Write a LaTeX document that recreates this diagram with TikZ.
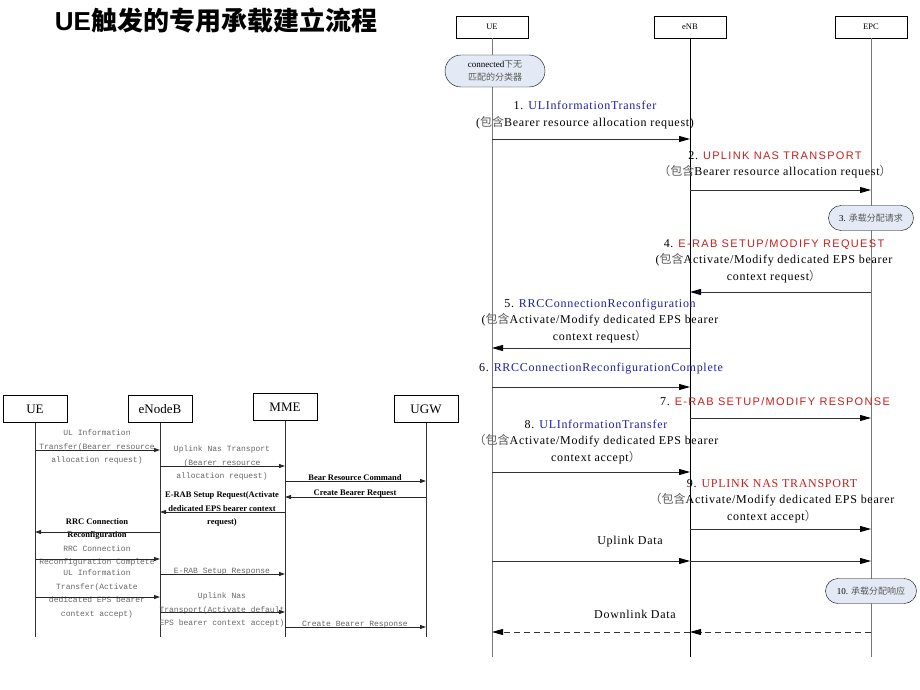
\documentclass[tikz,border=0pt]{standalone}
\usepackage{fontspec}
\setmainfont{Liberation Serif}
\setsansfont{Liberation Sans}
\setmonofont{Liberation Mono}
\newfontfamily\cjk{Noto Sans CJK SC}
\newfontfamily\seqfont[LetterSpace=6]{Liberation Serif}
\newfontfamily\seqsans[LetterSpace=12]{Liberation Sans}
\usetikzlibrary{arrows.meta,shapes.misc}
\definecolor{msgblue}{RGB}{30,30,170}
\definecolor{msgred}{RGB}{200,30,30}
\definecolor{notefill}{RGB}{228,234,245}
\definecolor{lifegray}{RGB}{120,120,120}
\newcommand{\zh}[1]{{\cjk #1}}
\newcommand{\zhl}[1]{{\cjk\color{black!65}#1}}
\newcommand{\redsans}[1]{\textcolor{msgred}{\seqsans\fontsize{11}{16.5}\selectfont #1}}
\tikzset{
  actor/.style={draw, minimum width=72pt, minimum height=22pt, inner sep=1pt, font=\fontsize{8.5}{10}\selectfont},
  oldactor/.style={draw, minimum width=64pt, minimum height=27pt, inner sep=1pt, font=\fontsize{13}{15}\selectfont},
  note/.style={draw, rounded rectangle, fill=notefill, inner sep=1pt, align=center, font=\fontsize{9}{12.5}\selectfont},
  lbl/.style={align=center, inner sep=0pt, font=\seqfont\fontsize{12}{16.5}\selectfont},
  oldlbl/.style={align=center, inner sep=0pt, text=black!60, font=\ttfamily\fontsize{8}{13.5}\selectfont},
  oldlblb/.style={align=center, inner sep=0pt, font=\fontsize{8.5}{13.5}\selectfont\bfseries},
  msg/.style={black!80, -{Triangle[length=11pt,width=6pt,black]}, line width=0.8pt},
  oldmsg/.style={black!85, -{Triangle[length=6pt,width=4pt]}, line width=0.9pt},
}
\begin{document}
\begin{tikzpicture}[x=1pt,y=-1pt]
\useasboundingbox (0,0) rectangle (920,690);

\node[font=\fontsize{26}{28}\selectfont] (title) at (216,21) {\textbf{\sffamily UE}{\cjk\bfseries 触发的专用承载建立流程}};

\node[actor] (ue) at (492,27) {UE};
\node[actor] (enb) at (690,27) {eNB};
\node[actor] (epc) at (871,27) {EPC};
\coordinate (bot) at (0,657);
\draw[lifegray] (ue) -- (ue |- bot);
\draw[black] (enb) -- (enb |- bot);
\draw[lifegray] (epc) -- (epc |- bot);

\node[note, minimum width=102pt, minimum height=32pt] (conn) at (495,71) {connected\zhl{下无}\\\zhl{匹配的分类器}};
\node[note, minimum width=87pt, minimum height=25pt] (req) at (871,218) {3. \zhl{承载分配请求}};
\node[note, minimum width=93pt, minimum height=25pt] (rsp) at (871,591) {10. \zhl{承载分配响应}};

\coordinate (m1) at (0,139);
\coordinate (m2) at (0,190);
\coordinate (m4) at (0,292);
\coordinate (m5) at (0,348);
\coordinate (m6) at (0,387);
\coordinate (m7) at (0,418);
\coordinate (m8) at (0,472);
\coordinate (m9) at (0,529);
\coordinate (up) at (0,561);
\coordinate (down) at (0,632);

\node[lbl] (t1) at (585,115) {1. \textcolor{msgblue}{ULInformationTransfer}\\(\zhl{包含}Bearer resource allocation request)};
\draw[msg] (ue |- m1) -- (enb |- m1);
\node[lbl] (t2) at (775,165) {2. \redsans{UPLINK NAS TRANSPORT}\\\zhl{（包含}Bearer resource allocation request\zhl{）}};
\draw[msg] (enb |- m2) -- (epc |- m2);
\node[lbl] (t4) at (774,261) {4. \redsans{E-RAB SETUP/MODIFY REQUEST}\\(\zhl{包含}Activate/Modify dedicated EPS bearer\\context request\zhl{）}};
\draw[msg] (epc |- m4) -- (enb |- m4);
\node[lbl] (t5) at (600,321) {5. \textcolor{msgblue}{RRCConnectionReconfiguration}\\(\zhl{包含}Activate/Modify dedicated EPS bearer\\context request\zhl{）}};
\draw[msg] (enb |- m5) -- (ue |- m5);
\node[lbl] (t6) at (601,369) {6. \textcolor{msgblue}{RRCConnectionReconfigurationComplete}};
\draw[msg] (ue |- m6) -- (enb |- m6);
\node[lbl] (t7) at (775,402) {7. \redsans{E-RAB SETUP/MODIFY RESPONSE}};
\draw[msg] (enb |- m7) -- (epc |- m7);
\node[lbl] (t8) at (596,442) {8. \textcolor{msgblue}{ULInformationTransfer}\\\zhl{（包含}Activate/Modify dedicated EPS bearer\\context accept\zhl{）}};
\draw[msg] (ue |- m8) -- (enb |- m8);
\node[lbl] (t9) at (772,501) {9. \textcolor{msgred}{UPLINK NAS TRANSPORT}\\\zhl{（包含}Activate/Modify dedicated EPS bearer\\context accept\zhl{）}};
\draw[msg] (enb |- m9) -- (epc |- m9);
\node[lbl] (tup) at (630,542) {Uplink Data};
\draw[msg] (ue |- up) -- (enb |- up);
\draw[msg] (enb |- up) -- (epc |- up);
\node[lbl] (tdown) at (635,614) {Downlink Data};
\draw[msg, dash pattern=on 6pt off 4pt] (epc |- down) -- (enb |- down);
\draw[msg, dash pattern=on 6pt off 4pt] (enb |- down) -- (ue |- down);

\node[oldactor] (oue) at (35,409) {UE};
\node[oldactor] (oenb) at (160,409) {eNodeB};
\node[oldactor] (omme) at (285,407) {MME};
\node[oldactor] (ougw) at (426,409) {UGW};
\coordinate (obot) at (0,637);
\draw[black!80] (oue) -- (oue |- obot);
\draw[black!80] (oenb) -- (oenb |- obot);
\draw[black!80] (omme) -- (omme |- obot);
\draw[black!80] (ougw) -- (ougw |- obot);

\coordinate (l1) at (0,450);
\coordinate (l2) at (0,466);
\coordinate (l3) at (0,481);
\coordinate (l4) at (0,497);
\coordinate (l5) at (0,512);
\coordinate (l6) at (0,532);
\coordinate (l7) at (0,559);
\coordinate (l8) at (0,574);
\coordinate (l9) at (0,597);
\coordinate (l10) at (0,612);
\coordinate (l11) at (0,627);

\node[oldlbl] (o1) at (97,447) {UL Information\\Transfer(Bearer resource\\allocation request)};
\draw[oldmsg] (oue |- l1) -- (oenb |- l1);
\node[oldlbl] (o2) at (222,463) {Uplink Nas Transport\\(Bearer resource\\allocation request)};
\draw[oldmsg] (oenb |- l2) -- (omme |- l2);
\node[oldlblb] (o3) at (355,478) {Bear Resource Command};
\draw[oldmsg] (omme |- l3) -- (ougw |- l3);
\node[oldlblb] (o4) at (355,494) {Create Bearer Request};
\draw[oldmsg] (ougw |- l4) -- (omme |- l4);
\node[oldlblb] (o5) at (222,509) {E-RAB Setup Request(Activate\\dedicated EPS bearer context\\request)};
\draw[oldmsg] (omme |- l5) -- (oenb |- l5);
\node[oldlblb] (o6) at (97,529) {RRC Connection\\Reconfiguration};
\draw[oldmsg] (oenb |- l6) -- (oue |- l6);
\node[oldlbl] (o7) at (97,556) {RRC Connection\\Reconfiguration Complete};
\draw[oldmsg] (oue |- l7) -- (oenb |- l7);
\node[oldlbl] (o8) at (222,572) {E-RAB Setup Response};
\draw[oldmsg] (oenb |- l8) -- (omme |- l8);
\node[oldlbl] (o9) at (97,594) {UL Information\\Transfer(Activate\\dedicated EPS bearer\\context accept)};
\draw[oldmsg] (oue |- l9) -- (oenb |- l9);
\node[oldlbl] (o10) at (222,610) {Uplink Nas\\Transport(Activate default\\EPS bearer context accept)};
\draw[oldmsg] (oenb |- l10) -- (omme |- l10);
\node[oldlbl] (o11) at (355,625) {Create Bearer Response};
\draw[oldmsg] (omme |- l11) -- (ougw |- l11);
\end{tikzpicture}
\end{document}
